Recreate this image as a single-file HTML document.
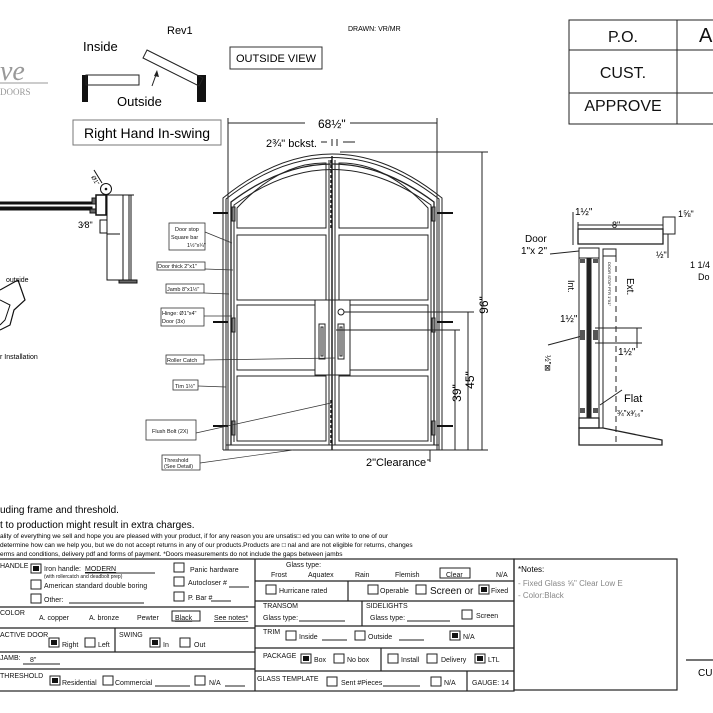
<!DOCTYPE html>
<html><head><meta charset="utf-8"><style>
html,body{margin:0;padding:0;background:#fff;}
svg{display:block;font-family:"Liberation Sans",Arial,sans-serif;}
</style></head><body>
<svg width="713" height="713" viewBox="0 0 713 713" xmlns="http://www.w3.org/2000/svg">
<rect width="713" height="713" fill="#fff"/>
<g fill="none" stroke="#222" stroke-width="1">
<!-- top table -->
<rect x="569" y="20" width="150" height="104"/>
<line x1="569" y1="50" x2="713" y2="50"/><line x1="569" y1="93" x2="713" y2="93"/>
<line x1="677" y1="20" x2="677" y2="124"/>
</g>
<g font-size="16" text-anchor="middle" fill="#111">
<text x="623" y="42">P.O.</text><text x="623" y="78">CUST.</text><text x="623" y="111">APPROVE</text>
</g>
<text x="699" y="42" font-size="20" fill="#111">A</text>

<!-- header texts -->
<text x="167" y="34" font-size="11">Rev1</text>
<text x="83" y="51" font-size="13">Inside</text>
<text x="117" y="106" font-size="13">Outside</text>
<text x="348" y="31" font-size="7">DRAWN: VR/MR</text>
<rect x="230" y="47" width="92" height="22" fill="none" stroke="#333"/>
<text x="276" y="62" font-size="11" text-anchor="middle">OUTSIDE VIEW</text>
<rect x="73" y="120" width="148" height="25" fill="none" stroke="#777"/>
<text x="147" y="138" font-size="14" text-anchor="middle">Right Hand In-swing</text>
<text x="0" y="80" font-size="28" font-style="italic" font-family="Liberation Serif,serif" fill="#999">ve</text>
<line x1="0" y1="83" x2="48" y2="83" stroke="#999"/>
<text x="0" y="95" font-size="9" fill="#999" font-family="Liberation Serif,serif">DOORS</text>
<!-- swing icon -->
<rect x="82" y="75" width="6" height="27" fill="#111"/>
<rect x="86" y="75" width="53" height="10" fill="none" stroke="#222"/>
<rect x="197" y="75" width="9" height="27" fill="#111"/>
<polygon points="147,50 203,78 199,86 143,58" fill="none" stroke="#222"/>
<line x1="152" y1="86" x2="157" y2="72" stroke="#222"/><polygon points="157,70 159,77 154,76" fill="#222"/>

<!-- left section detail -->
<g stroke="#111" fill="none">
<rect x="0" y="202" width="92" height="2" fill="#111"/><rect x="0" y="207" width="92" height="3" fill="#111"/>
<rect x="92" y="198" width="4" height="6" fill="#666"/><rect x="90" y="209" width="6" height="4" fill="#666"/>
<rect x="96" y="195" width="10" height="20" stroke-width="1.5"/>
<circle cx="106" cy="189" r="5.5"/><circle cx="106" cy="189" r="0.8" fill="#111"/>
<line x1="94" y1="170" x2="102" y2="183"/>
<rect x="107" y="195" width="16" height="85"/><rect x="123" y="195" width="6" height="85"/>
<rect x="119" y="280" width="18" height="3" fill="#666"/>
<line x1="123" y1="195" x2="134" y2="195"/><line x1="131" y1="195" x2="131" y2="280"/>
<rect x="100" y="220" width="7" height="13"/><line x1="107" y1="234" x2="120" y2="234"/>
<path d="M0 290 L18 280 L25 300 L14 310 L10 325 L0 330" stroke-width="1.2"/>
<path d="M0 300 L10 305 L5 320 L0 325"/>
</g>
<text x="78" y="228" font-size="9">3⁄8"</text>
<text x="91" y="177" font-size="6" transform="rotate(60 91 177)">Ø1"</text>
<text x="6" y="282" font-size="7">outside</text>
<text x="0" y="359" font-size="7">r Installation</text>

<!-- main door -->
<g stroke="#222" fill="none">
<line x1="228" y1="118" x2="228" y2="450"/><line x1="437" y1="118" x2="437" y2="450"/>
<line x1="228" y1="123" x2="437" y2="123"/>
<path d="M223 450 L223 198 Q332 110 442 198 L442 450" stroke-width="1"/>
<path d="M226 450 L226 199 Q332 116 439 199 L439 450"/>
<path d="M231 445 L231 202 Q332 126 434 202 L434 445" stroke-width="1.3"/>
<path d="M234 442 L234 205 Q332 134 431 205 L431 442"/>
<line x1="223" y1="450" x2="442" y2="450"/>
<line x1="226" y1="445" x2="439" y2="445" />
<line x1="332" y1="156" x2="332" y2="450" stroke-width="1.5"/>
<line x1="329" y1="160" x2="329" y2="445"/><line x1="335" y1="160" x2="335" y2="445"/>
<!-- left leaf panels -->
<path d="M237 228 L237 208 Q280 162 326 163 L326 228 Z"/>
<rect x="237" y="235" width="89" height="65"/>
<rect x="237" y="305" width="78" height="65"/>
<rect x="237" y="376" width="89" height="65"/>
<path d="M339 228 L339 163 Q385 162 428 208 L428 228 Z"/>
<rect x="339" y="235" width="89" height="65"/>
<rect x="350" y="305" width="78" height="65"/>
<rect x="339" y="376" width="89" height="65"/>
<!-- handle plates -->
<path d="M315 300 L332 300 L332 375 L315 375 Z"/><path d="M332 300 L350 300 L350 375 L332 375 Z"/>
<rect x="319" y="324" width="6" height="35"/><rect x="321" y="327" width="2" height="29"/>
<rect x="338" y="324" width="6" height="35"/><rect x="340" y="327" width="2" height="29"/>
<circle cx="341" cy="312" r="3"/>
<!-- hinges -->
<rect x="232" y="207" width="3" height="14" fill="#888"/><rect x="232" y="318" width="3" height="14" fill="#888"/><rect x="232" y="421" width="3" height="14" fill="#888"/>
<rect x="432" y="207" width="3" height="14" fill="#888"/><rect x="432" y="318" width="3" height="14" fill="#888"/><rect x="432" y="421" width="3" height="14" fill="#888"/>
</g>
<g stroke="#111" stroke-width="2">
<line x1="213" y1="213" x2="228" y2="213"/><line x1="213" y1="322" x2="228" y2="322"/><line x1="213" y1="426" x2="228" y2="426"/>
<line x1="437" y1="213" x2="453" y2="213"/><line x1="437" y1="322" x2="453" y2="322"/><line x1="437" y1="426" x2="453" y2="426"/>
<line x1="331" y1="160" x2="331" y2="230" stroke-dasharray="3 2" stroke-width="1.5"/>
<line x1="331" y1="400" x2="331" y2="445" stroke-dasharray="3 2" stroke-width="1.5"/>
</g>
<!-- dimensions -->
<g stroke="#222" fill="none">
<line x1="340" y1="152" x2="488" y2="152"/>
<line x1="482" y1="152" x2="482" y2="450"/>
<line x1="344" y1="312" x2="474" y2="312"/><line x1="468" y1="312" x2="468" y2="450"/>
<line x1="336" y1="330" x2="460" y2="330"/><line x1="455" y1="330" x2="455" y2="450"/>
<line x1="442" y1="450" x2="488" y2="450"/>
<line x1="321" y1="142" x2="327" y2="142"/><line x1="343" y1="142" x2="355" y2="142"/>
<line x1="332" y1="139" x2="332" y2="146"/><line x1="337" y1="139" x2="337" y2="146"/>
<line x1="427" y1="460" x2="430" y2="460"/><line x1="430" y1="450" x2="430" y2="462"/>
</g>
<rect x="305" y="118" width="45" height="10" fill="#fff"/>
<text x="318" y="128" font-size="12">68½"</text>
<text x="266" y="147" font-size="11">2¾" bckst.</text>
<g font-size="12">
<text x="488" y="305" transform="rotate(-90 488 305)" text-anchor="middle">96"</text>
<text x="474" y="380" transform="rotate(-90 474 380)" text-anchor="middle">45"</text>
<text x="461" y="393" transform="rotate(-90 461 393)" text-anchor="middle">39"</text>
</g>
<text x="366" y="466" font-size="11">2"Clearance</text>
<!-- callouts -->
<g stroke="#333" fill="#fff" stroke-width="0.8">
<rect x="169" y="223" width="36" height="27"/><rect x="157" y="262" width="48" height="8"/>
<rect x="166" y="284" width="38" height="9"/><rect x="161" y="308" width="43" height="18"/>
<rect x="166" y="355" width="38" height="9"/><rect x="173" y="380" width="25" height="10"/>
<rect x="146" y="420" width="50" height="20"/><rect x="162" y="455" width="38" height="15"/>
</g>
<g stroke="#333" stroke-width="0.7">
<line x1="205" y1="232" x2="232" y2="243"/><line x1="205" y1="269" x2="233" y2="270"/>
<line x1="204" y1="293" x2="229" y2="294"/><line x1="204" y1="316" x2="232" y2="316"/>
<line x1="204" y1="360" x2="335" y2="358"/><line x1="198" y1="386" x2="226" y2="387"/>
<line x1="196" y1="433" x2="331" y2="403"/><line x1="200" y1="463" x2="293" y2="450"/>
</g>
<g font-size="5.5" fill="#111">
<text x="175" y="231">Door stop</text><text x="171" y="239">Square bar</text><text x="187" y="247">1½"x¼"</text>
<text x="158" y="268">Door thick 2"x1"</text><text x="167" y="291">Jamb 8"x1½"</text>
<text x="162" y="315">Hinge: Ø1"x4"</text><text x="162" y="323">Door (3x)</text>
<text x="167" y="362">Roller Catch</text><text x="175" y="388">Tim 1½"</text>
<text x="152" y="433">Flush Bolt (2X)</text>
<text x="164" y="462">Threshold</text><text x="164" y="468">(See Detail)</text>
</g>

<!-- right detail -->
<g stroke="#222" fill="none">
<rect x="578" y="229" width="85" height="15" stroke-width="1.3"/>
<rect x="663" y="217" width="12" height="17"/>
<line x1="578" y1="222" x2="578" y2="244"/><line x1="573" y1="212" x2="573" y2="245"/>
<line x1="578" y1="225" x2="663" y2="225"/>
<rect x="579" y="248" width="20" height="10"/>
<rect x="579" y="258" width="20" height="160"/>
<rect x="587" y="258" width="4" height="160" fill="#222"/>
<rect x="579" y="418" width="20" height="10" stroke-width="1.3"/>
<rect x="603" y="249" width="13" height="7"/>
<line x1="603" y1="256" x2="603" y2="428"/>
<line x1="616" y1="256" x2="616" y2="445" stroke-dasharray="6 4"/>
<path d="M579 428 L603 428 L662 440 L662 445 L579 445 Z" stroke-width="1.3"/>
<line x1="595" y1="328" x2="642" y2="328"/><line x1="595" y1="343" x2="642" y2="343"/>
<line x1="637" y1="328" x2="637" y2="348"/>
<line x1="550" y1="254" x2="579" y2="251"/>
<line x1="548" y1="345" x2="582" y2="336"/>
<line x1="600" y1="405" x2="622" y2="390"/>
<line x1="668" y1="234" x2="668" y2="258"/>
</g>
<g fill="#555"><rect x="580" y="259" width="5" height="4"/><rect x="593" y="259" width="5" height="4"/><rect x="580" y="330" width="5" height="10"/><rect x="593" y="330" width="5" height="10"/><rect x="580" y="408" width="5" height="5"/><rect x="593" y="408" width="5" height="5"/></g>
<text x="612" y="228" font-size="9">8"</text>
<text x="575" y="215" font-size="10">1½"</text>
<text x="678" y="217" font-size="9">1⅝"</text>
<text x="656" y="258" font-size="9">½"</text>
<text x="525" y="242" font-size="10">Door</text><text x="521" y="254" font-size="10">1"x 2"</text>
<text x="690" y="268" font-size="9">1 1/4</text><text x="698" y="280" font-size="9">Do</text>
<text x="568" y="280" font-size="9" transform="rotate(90 568 280)">Int.</text>
<text x="627" y="278" font-size="10" transform="rotate(90 627 278)">Ext.</text>
<text x="608" y="262" font-size="4" transform="rotate(90 608 262)">DOOR STOP PTR 1"X1"</text>
<text x="560" y="322" font-size="10">1½"</text>
<text x="618" y="355" font-size="10">1½"</text>
<text x="545" y="355" font-size="8" transform="rotate(90 545 355)">½"⊠</text>
<text x="624" y="402" font-size="11">Flat</text>
<text x="617" y="416" font-size="8">¾"x³⁄₁₆"</text>

<!-- notes text -->
<text x="0" y="513" font-size="10">uding frame and threshold.</text>
<text x="0" y="528" font-size="10">t to production might result in extra charges.</text>
<g font-size="6.5">
<text x="0" y="538">ality of everything we sell and hope you are pleased with your product, if for any reason you are unsatis□ ed you can write to one of our</text>
<text x="0" y="547">determine how can we help you, but we do not accept returns in any of our products.Products are □ nal and are not eligible for returns, changes</text>
<text x="0" y="556">erms and conditions, delivery pdf and forms of payment. *Doors measurements do not include the gaps between jambs</text>
</g>

<!-- form -->
<g stroke="#222" fill="none" stroke-width="1.2">
<rect x="-2" y="559" width="516" height="132"/>
<rect x="514" y="559" width="163" height="131"/>
<line x1="255" y1="559" x2="255" y2="691"/>
<line x1="0" y1="607" x2="255" y2="607"/><line x1="0" y1="628" x2="255" y2="628"/>
<line x1="0" y1="652" x2="255" y2="652"/><line x1="0" y1="669" x2="255" y2="669"/>
<line x1="115" y1="628" x2="115" y2="652"/>
<line x1="255" y1="581" x2="514" y2="581"/><line x1="255" y1="601" x2="514" y2="601"/>
<line x1="255" y1="626" x2="514" y2="626"/><line x1="255" y1="648" x2="514" y2="648"/>
<line x1="255" y1="671" x2="514" y2="671"/>
<line x1="348" y1="581" x2="348" y2="601"/><line x1="362" y1="601" x2="362" y2="626"/>
<line x1="381" y1="648" x2="381" y2="671"/><line x1="467" y1="671" x2="467" y2="691"/>
<line x1="686" y1="660" x2="713" y2="660"/>
</g>
<g stroke="#222" fill="#fff" stroke-width="1">
<rect x="31" y="564" width="10" height="9"/><rect x="31" y="580" width="10" height="9"/><rect x="31" y="594" width="10" height="9"/>
<rect x="174" y="563" width="10" height="9"/><rect x="174" y="577" width="10" height="9"/><rect x="174" y="592" width="10" height="9"/>
<rect x="49" y="638" width="10" height="9"/><rect x="85" y="638" width="10" height="9"/>
<rect x="150" y="638" width="10" height="9"/><rect x="180" y="638" width="10" height="9"/>
<rect x="50" y="676" width="10" height="9"/><rect x="103" y="676" width="10" height="9"/><rect x="195" y="676" width="10" height="9"/>
<rect x="266" y="585" width="10" height="9"/><rect x="368" y="585" width="10" height="9"/><rect x="416" y="585" width="10" height="9"/><rect x="479" y="585" width="10" height="9"/>
<rect x="462" y="610" width="10" height="9"/>
<rect x="286" y="631" width="10" height="9"/><rect x="355" y="631" width="10" height="9"/><rect x="450" y="631" width="10" height="9"/>
<rect x="301" y="654" width="10" height="9"/><rect x="334" y="654" width="10" height="9"/><rect x="388" y="654" width="10" height="9"/><rect x="427" y="654" width="10" height="9"/><rect x="475" y="654" width="10" height="9"/>
<rect x="327" y="677" width="10" height="9"/><rect x="431" y="677" width="10" height="9"/>
</g>
<g fill="#111">
<rect x="33" y="566" width="6" height="5"/><rect x="51" y="640" width="6" height="5"/><rect x="152" y="640" width="6" height="5"/>
<rect x="52" y="678" width="6" height="5"/><rect x="481" y="587" width="6" height="5"/><rect x="452" y="633" width="6" height="5"/>
<rect x="303" y="656" width="6" height="5"/><rect x="477" y="656" width="6" height="5"/>
</g>
<rect x="172" y="611" width="28" height="10" fill="none" stroke="#222"/>
<rect x="440" y="568" width="30" height="10" fill="none" stroke="#222"/>
<g font-size="7" fill="#111">
<text x="0" y="568">HANDLE</text>
<text x="44" y="571">Iron handle:</text><text x="85" y="571" text-decoration="underline">MODERN</text>
<line x1="85" y1="573" x2="155" y2="573" stroke="#222"/>
<text x="44" y="578" font-size="5">(with rollercatch and deadbolt prep)</text>
<text x="44" y="588">American standard double boring</text>
<text x="44" y="602">Other:</text><line x1="69" y1="603" x2="144" y2="603" stroke="#222"/>
<text x="190" y="572">Panic hardware</text>
<text x="188" y="585">Autocloser #</text><line x1="229" y1="587" x2="249" y2="587" stroke="#222"/>
<text x="188" y="600">P. Bar #</text><line x1="211" y1="601" x2="231" y2="601" stroke="#222"/>
<text x="0" y="615">COLOR</text>
<text x="39" y="620">A. copper</text><text x="89" y="620">A. bronze</text><text x="137" y="620">Pewter</text>
<text x="175" y="620" text-decoration="underline">Black</text>
<text x="214" y="620" text-decoration="underline">See notes*</text>
<text x="0" y="637">ACTIVE DOOR</text><text x="62" y="647">Right</text><text x="98" y="647">Left</text>
<text x="119" y="637">SWING</text><text x="163" y="647">In</text><text x="194" y="647">Out</text>
<text x="0" y="660">JAMB:</text><text x="30" y="662">8"</text><line x1="23" y1="664" x2="60" y2="664" stroke="#222"/>
<text x="0" y="678">THRESHOLD</text><text x="62" y="685">Residential</text><text x="115" y="685">Commercial</text>
<line x1="155" y1="686" x2="190" y2="686" stroke="#222"/>
<text x="209" y="685">N/A</text><line x1="225" y1="686" x2="245" y2="686" stroke="#222"/>
<text x="286" y="567">Glass type:</text>
<text x="271" y="577">Frost</text><text x="308" y="577">Aquatex</text><text x="355" y="577">Rain</text>
<text x="395" y="577">Flemish</text><text x="446" y="577">Clear</text><text x="496" y="577">N/A</text>
<text x="279" y="593">Hurricane rated</text>
<text x="380" y="593">Operable</text><text x="430" y="594" font-size="10">Screen or</text><text x="491" y="593">Fixed</text>
<text x="263" y="608">TRANSOM</text><text x="263" y="620">Glass type:</text><line x1="299" y1="621" x2="345" y2="621" stroke="#222"/>
<text x="366" y="608">SIDELIGHTS</text><text x="370" y="620">Glass type:</text><line x1="407" y1="621" x2="450" y2="621" stroke="#222"/>
<text x="476" y="618">Screen</text>
<text x="263" y="634">TRIM</text><text x="299" y="639">Inside</text><line x1="322" y1="640" x2="347" y2="640" stroke="#222"/>
<text x="368" y="639">Outside</text><line x1="399" y1="640" x2="424" y2="640" stroke="#222"/>
<text x="463" y="639">N/A</text>
<text x="263" y="658">PACKAGE</text><text x="314" y="662">Box</text><text x="347" y="662">No box</text>
<text x="401" y="662">Install</text><text x="441" y="662">Delivery</text><text x="488" y="662">LTL</text>
<text x="257" y="681">GLASS TEMPLATE</text><text x="341" y="685">Sent #Pieces</text><line x1="383" y1="686" x2="420" y2="686" stroke="#222"/>
<text x="444" y="685">N/A</text><text x="472" y="685">GAUGE: 14</text>
</g>
<text x="518" y="572" font-size="8">*Notes:</text>
<text x="518" y="586" font-size="8" fill="#888">- Fixed Glass ⅝" Clear  Low E</text>
<text x="518" y="598" font-size="8" fill="#888">- Color:Black</text>
<text x="698" y="676" font-size="10">CU</text>
</svg>
</body></html>
